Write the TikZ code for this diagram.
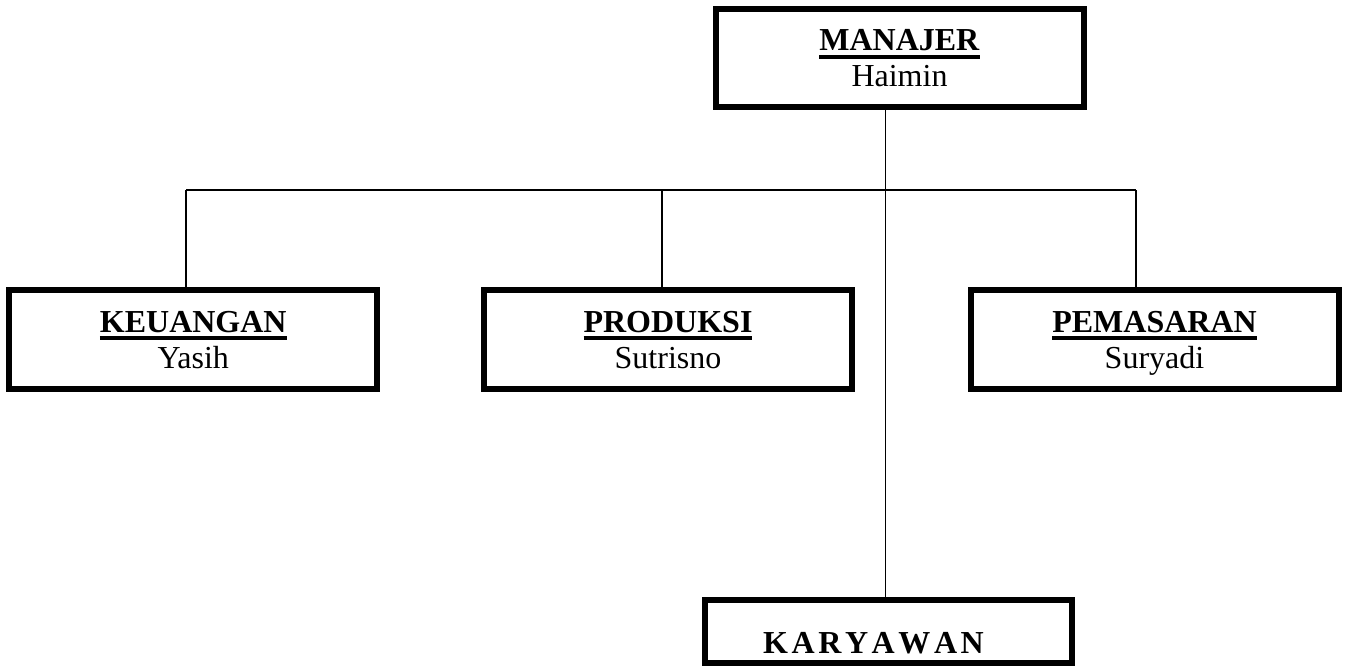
\documentclass[tikz,border=0pt]{standalone}
\usepackage{fontspec}
\setmainfont{Liberation Serif}
\newcommand\myul[1]{\setbox0\hbox{#1}\rlap{\raisebox{-8pt}{\rule{\wd0}{4pt}}}\box0}
\newcommand\twoline[2]{\vtop{\baselineskip=36pt\halign{\hfil##\hfil\cr\myul{\textbf{#1}}\cr#2\cr}}}
\newcommand\gapk{\kern3.6pt}
\begin{document}
\begin{tikzpicture}[x=1pt,y=-1pt,
  unitbox/.style={draw=black, line width=6pt, minimum width=368pt, minimum height=98pt,
    inner sep=0pt, font=\fontsize{32}{36}\selectfont, text height=21pt, text depth=36pt},
  lowbox/.style={draw=black, line width=6pt, minimum width=367pt, minimum height=63pt,
    inner sep=0pt, font=\fontsize{32}{36}\selectfont, text height=43pt, text depth=0pt},
  link/.style={draw=black, line width=1.7pt}]
\useasboundingbox (0,0) rectangle (1346,666);
\node[unitbox] (man) at (899.5,58.5) {\twoline{MANAJER}{Haimin}};
\node[unitbox, minimum height=99pt] (keu) at (193.25,339.5) {\twoline{KEUANGAN}{Yasih}};
\node[unitbox, minimum height=99pt] (pro) at (668,339.5) {\twoline{PRODUKSI}{Sutrisno}};
\node[unitbox, minimum height=99pt] (pem) at (1154.5,339.5) {\twoline{PEMASARAN}{Suryadi}};
\node[lowbox] (kar) at (888.5,631.5) {\addfontfeature{Kerning=Off}\textbf{K\gapk A\gapk R\gapk Y\gapk A\gapk W\gapk A\gapk N}\kern30pt};
\coordinate (trunk) at (885.5,190);
\coordinate (bk) at (186,190);
\coordinate (bp) at (662,190);
\coordinate (bm) at (1136,190);
\path[link] (trunk |- man.south) -- (trunk |- kar.north);
\path[link] (bk) -- (bm);
\path[link] (bk) -- (bk |- keu.north);
\path[link] (bp) -- (bp |- pro.north);
\path[link] (bm) -- (bm |- pem.north);
\end{tikzpicture}
\end{document}
